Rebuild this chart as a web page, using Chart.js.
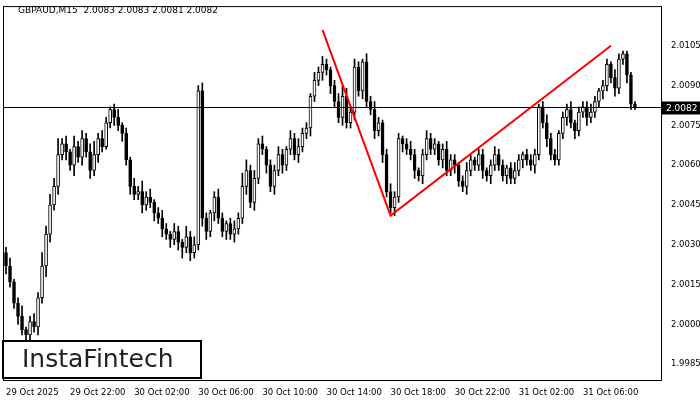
<!DOCTYPE html>
<html>
<head>
<meta charset="utf-8">
<script src="https://cdn.jsdelivr.net/npm/chart.js@4"></script>
<style>
body { margin: 0; background: #fff; }
#wrap { width: 700px; height: 400px; }
</style>
</head>
<body>
<div id="wrap"><canvas id="chartCandle"></canvas></div>
<script>
// closes per 15 min candle, from 29 Oct 18:00
const closes = [
  2.0022, 2.0016, 2.0008, 2.0003, 1.9998, 1.9996, 2.0001, 1.9999, 2.0010, 2.0022, 2.0034, 2.0045,
  2.0052, 2.0064, 2.0068, 2.0065, 2.0060, 2.0067, 2.0063, 2.0070, 2.0065, 2.0058, 2.0064, 2.0070,
  2.0067, 2.0076, 2.0081, 2.0078, 2.0075, 2.0072, 2.0062, 2.0052, 2.0049, 2.0050, 2.0045, 2.0048,
  2.0046, 2.0042, 2.0040, 2.0036, 2.0034, 2.0032, 2.0035, 2.0031, 2.0029, 2.0033, 2.0027, 2.0030,
  2.0088, 2.0040, 2.0035, 2.0042, 2.0048, 2.0040, 2.0035, 2.0038, 2.0034, 2.0036, 2.0040, 2.0052,
  2.0058, 2.0046, 2.0055, 2.0068, 2.0066, 2.0060, 2.0052, 2.0058, 2.0064, 2.0060, 2.0066, 2.0070,
  2.0064, 2.0067, 2.0072, 2.0074, 2.0086, 2.0092, 2.0095, 2.0098, 2.0096, 2.0090, 2.0084, 2.0078,
  2.0086, 2.0076, 2.0080, 2.0097, 2.0088, 2.0099, 2.0084, 2.0081, 2.0073, 2.0076, 2.0064, 2.0050,
  2.0044, 2.0048, 2.0070, 2.0068, 2.0066, 2.0064, 2.0058, 2.0056, 2.0064, 2.0070, 2.0066, 2.0068,
  2.0062, 2.0066, 2.0058, 2.0062, 2.0060, 2.0054, 2.0052, 2.0058, 2.0062, 2.0060, 2.0064, 2.0058,
  2.0056, 2.0060, 2.0064, 2.0060, 2.0056, 2.0059, 2.0055, 2.0058, 2.0062, 2.0064, 2.0062, 2.0060,
  2.0064, 2.0082, 2.0076, 2.0070, 2.0064, 2.0062, 2.0072, 2.0078, 2.0081, 2.0076, 2.0073, 2.0080,
  2.0082, 2.0078, 2.0080, 2.0084, 2.0088, 2.0090, 2.0098, 2.0093, 2.0089, 2.0100, 2.0102, 2.0094,
  2.0083, 2.0082
]
const firstOpen = 2.0027
// wick lengths in pips (0.0001)
const wickUp = [
  2,3,1,2,4,1,2,3,2,5,3,4, 3,6,2,3,1,4,2,3,2,3,5,2, 3,2,1,2,3,1,2,1,3,2,4,2,
  3,1,2,3,2,1,3,2,1,4,2,3, 2,3,2,1,2,3,2,1,2,3,2,5, 4,2,3,2,3,1,2,2,3,2,1,3,
  2,3,2,2,1,3,2,3,2,1,2,3, 4,3,2,3,2,1,3,2,3,2,1,2, 3,2,2,1,2,3,2,1,2,3,2,2,
  1,2,3,2,2,1,2,3,2,1,2,2, 1,2,3,2,2,1,2,3,2,1,2,2, 2,1,2,3,2,2,1,2,2,3,1,2,
  2,2,3,2,1,2,2,1,3,2,1,1, 1,1
]
const wickDn = [
  3,2,2,3,2,3,2,2,3,2,4,3, 2,3,2,3,2,4,2,3,2,3,2,3, 2,1,2,3,2,3,2,3,2,2,3,2,
  2,3,2,3,2,3,2,3,4,2,3,2, 2,3,3,2,3,2,2,3,2,3,2,2, 3,2,3,2,2,3,2,3,2,3,2,2,
  2,3,2,2,3,2,2,3,2,3,2,2, 3,2,2,3,2,3,2,2,3,2,3,2, 2,3,2,3,2,2,3,2,3,2,2,2,
  2,3,2,2,3,2,2,3,2,2,2,3, 2,3,2,2,2,3,2,2,2,3,2,2, 3,2,2,3,2,2,2,2,3,2,3,2,
  2,3,2,2,2,3,2,2,3,2,2,3, 2,1
]
const yTicks = [2.0105, 2.0090, 2.0075, 2.0060, 2.0045, 2.0030, 2.0015, 2.0000, 1.9985]
const lastPrice = 2.0082
// pattern line: [candle index, price]
const patternPts = [[79, 2.0111], [96, 2.0041], [151, 2.0105]]

const slots = 164
const dayNames = ['29 Oct', '30 Oct', '31 Oct', '01 Nov']
let labels = []
for (let i = 0; i < slots; i++) {
  let mins = 18 * 60 + i * 15
  let d = Math.floor(mins / 1440)
  let h = Math.floor((mins % 1440) / 60), m = mins % 60
  labels.push(i == 0 ? '29 Oct 2025' : `${dayNames[d]} ${String(h).padStart(2, '0')}:${String(m).padStart(2, '0')}`)
}

let bodies = [], wicks = [], fills = []
closes.forEach(function (c, i) {
  let o = i == 0 ? firstOpen : closes[i - 1]
  let hi = Math.max(o, c) + wickUp[i] * 0.0001
  let lo = Math.min(o, c) - wickDn[i] * 0.0001
  if (Math.abs(o - c) < 0.00005) c = o + 0.00005
  bodies.push([o, c])
  wicks.push([lo, hi])
  fills.push(c >= o ? '#ffffff' : '#000000')
})
let pattern = new Array(slots).fill(null)
patternPts.forEach(function (p) { pattern[p[0]] = p[1] })

const overlay = {
  id: 'overlay',
  afterDraw: function (chart) {
    let ctx = chart.ctx, a = chart.chartArea, y = chart.scales.y
    ctx.save()
    // price line
    let py = Math.round(y.getPixelForValue(lastPrice)) + 0.5
    ctx.strokeStyle = '#000'; ctx.lineWidth = 1
    ctx.beginPath(); ctx.moveTo(a.left, py); ctx.lineTo(a.right, py); ctx.stroke()
    ctx.fillStyle = '#000'; ctx.fillRect(a.right + 1, py - 6, 38, 13)
    ctx.fillStyle = '#fff'; ctx.font = '9px "DejaVu Sans"'; ctx.textBaseline = 'middle'
    ctx.fillText(lastPrice.toFixed(4), a.right + 5, py + 1)
    // frame
    ctx.strokeStyle = '#000'
    ctx.strokeRect(a.left - 0.5, a.top - 0.5, a.right - a.left + 1, a.bottom - a.top + 1)
    // title
    ctx.fillStyle = '#000'; ctx.font = '9px "DejaVu Sans"'; ctx.textBaseline = 'top'
    ctx.fillText('GBPAUD,M15  2.0083 2.0083 2.0081 2.0082', 18, 6)
    // logo
    ctx.fillStyle = '#fff'; ctx.fillRect(3, 341, 198, 37)
    ctx.lineWidth = 2; ctx.strokeRect(3, 341, 198, 37)
    ctx.fillStyle = '#222'; ctx.font = '25px "DejaVu Sans"'; ctx.textBaseline = 'middle'
    ctx.fillText('InstaFintech', 22, 360)
    ctx.restore()
  }
}

new Chart(document.getElementById('chartCandle'), {
  type: 'bar',
  data: {
    labels: labels,
    datasets: [{
      type: 'line',
      data: pattern,
      borderColor: '#ff0000',
      borderWidth: 2,
      pointRadius: 0,
      spanGaps: true,
      order: 0
    }, {
      data: bodies,
      backgroundColor: fills,
      borderColor: '#000',
      borderWidth: 1,
      borderSkipped: false,
      barThickness: 3,
      grouped: false,
      order: 1
    }, {
      data: wicks,
      backgroundColor: '#000',
      barThickness: 1,
      grouped: false,
      order: 2
    }]
  },
  options: {
    animation: false,
    responsive: true,
    maintainAspectRatio: false,
    layout: { padding: { left: 4, top: 5, right: 0 } },
    plugins: { legend: { display: false }, tooltip: { enabled: false } },
    scales: {
      x: {
        grid: { display: false },
        border: { display: false },
        afterFit: function (s) { s.height = 20; s.paddingRight = 0 },
        ticks: {
          autoSkip: false, maxRotation: 0, padding: 0, align: 'start',
          font: { family: 'DejaVu Sans', size: 8.5 }, color: '#000',
          callback: function (v, i) { return i % 16 == 0 && i <= 144 ? labels[i] : null }
        }
      },
      y: {
        position: 'right',
        min: 1.9979, max: 2.01196,
        grid: { display: false },
        border: { display: false },
        afterFit: function (s) { s.width = 39 },
        afterBuildTicks: function (s) { s.ticks = yTicks.map(function (v) { return { value: v } }) },
        ticks: {
          padding: 2,
          font: { family: 'DejaVu Sans', size: 8.5 }, color: '#000',
          callback: function (v) { return v.toFixed(4) }
        }
      }
    }
  },
  plugins: [overlay]
})
</script>
</body>
</html>
